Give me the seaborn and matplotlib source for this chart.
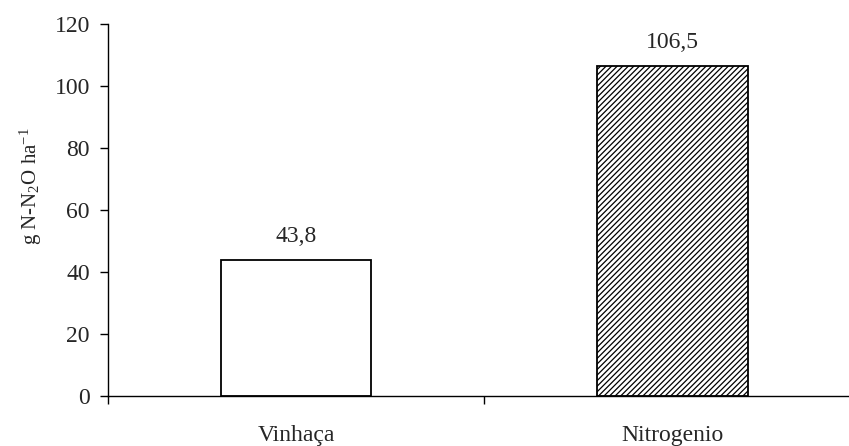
import pandas as pd
import numpy as np
import matplotlib
matplotlib.use("Agg")
import matplotlib.pyplot as plt
import seaborn as sns

tratamentos = ["Vinhaça", "Nitrogenio"]
emissao = [43.8, 106.5]
rotulos = ["43,8", "106,5"]

df = pd.DataFrame({"Tratamento": tratamentos, "Emissao": emissao})

sns.set_style("ticks")
plt.rcParams["font.family"] = ["Liberation Serif", "DejaVu Serif"]
plt.rcParams["mathtext.fontset"] = "custom"
plt.rcParams["mathtext.rm"] = "Liberation Serif"
plt.rcParams["mathtext.it"] = "Liberation Serif"
plt.rcParams["hatch.linewidth"] = 0.9
plt.rcParams["hatch.color"] = "black"

fig = plt.figure(figsize=(8.49, 4.46), dpi=100)
ax = fig.add_axes([0.1272, 0.1121, 0.8863, 0.834])

sns.barplot(x="Tratamento", y="Emissao", data=df, color="white", edgecolor="black",
            linewidth=1.3, width=0.4, saturation=1, ax=ax)
ax.patches[1].set_hatch("//////")

for i, (v, t) in enumerate(zip(emissao, rotulos)):
    ax.annotate(t, (i, v), xytext=(0, 13), textcoords="offset points",
                ha="center", va="baseline", fontsize=17)

ax.set_xlim(-0.5, 1.5)
ax.set_ylim(0, 120)
ax.set_yticks(np.arange(0, 121, 20))
ax.tick_params(axis="y", labelsize=17, length=6, width=1, pad=7, color="black")

# tick marks between categories, labels at the centres
ax.set_xticks([-0.5, 0.5, 1.5])
ax.set_xticklabels([])
ax.tick_params(axis="x", which="major", length=6, width=1, color="black")
ax.set_xticks([0, 1], minor=True)
ax.set_xticklabels(tratamentos, minor=True)
ax.tick_params(axis="x", which="minor", length=0, labelsize=17, pad=21)

ax.set_xlabel("")
ax.set_ylabel("g N-N$_2$O ha$^{\\mathrm{-1}}$", fontsize=15)
ax.yaxis.set_label_coords(-0.085, 0.565)

sns.despine(ax=ax)
for s in ["left", "bottom"]:
    ax.spines[s].set_linewidth(1)
    ax.spines[s].set_color("black")

fig.savefig("out.png", dpi=100)
